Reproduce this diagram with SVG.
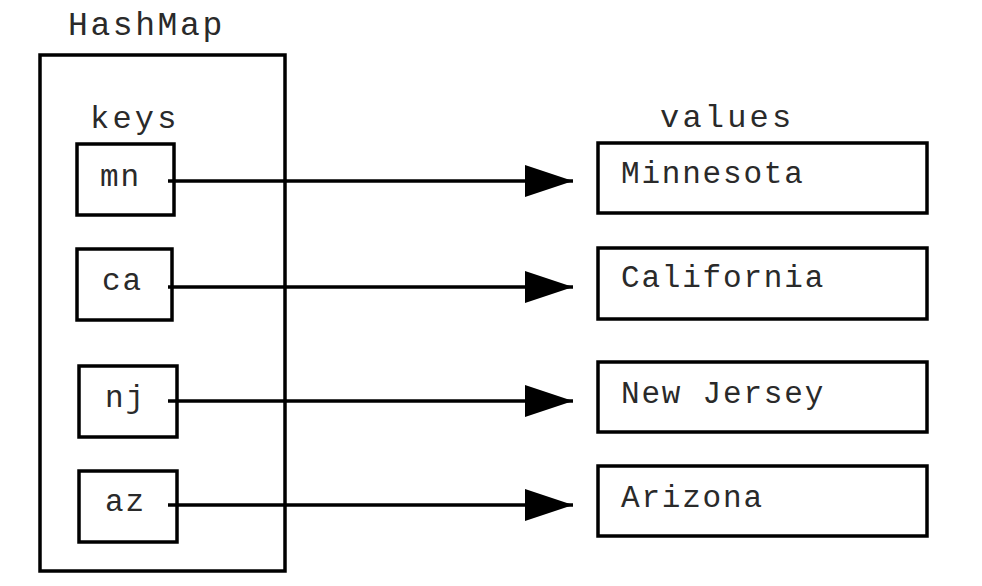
<svg xmlns="http://www.w3.org/2000/svg" width="982" height="586" viewBox="0 0 982 586">
<style>
.box{fill:#fff;stroke:#000;stroke-width:3.5}
.t{font-family:"Liberation Mono","Courier New",monospace;font-size:31px;fill:#2a2a2a;letter-spacing:1.8px}
.conn{stroke:#000;stroke-width:3.5;fill:none}
</style>
<defs>
<marker id="ah" markerUnits="userSpaceOnUse" markerWidth="50" markerHeight="34" refX="48" refY="17" orient="auto">
<polygon points="0,1 48,17 0,33" fill="#000"/>
</marker>
</defs>
<rect width="982" height="586" fill="#fff"/>
<g id="hashmap">
<rect class="box" x="40" y="55" width="245" height="516"/>
<text class="t" x="68" y="35" style="font-size:33px;letter-spacing:2.6px">HashMap</text>
<text class="t" x="90" y="128" style="font-size:32px;letter-spacing:3.2px">keys</text>
</g>
<text class="t" x="660" y="127" style="font-size:32px;letter-spacing:3.2px">values</text>
<g id="key-mn"><rect class="box" x="77" y="144" width="97" height="71"/><text class="t" x="100" y="186">mn</text></g>
<g id="key-ca"><rect class="box" x="77" y="249" width="95" height="71"/><text class="t" x="102" y="290">ca</text></g>
<g id="key-nj"><rect class="box" x="79" y="366" width="98" height="71"/><text class="t" x="105" y="407">nj</text></g>
<g id="key-az"><rect class="box" x="79" y="471" width="98" height="71"/><text class="t" x="105" y="511">az</text></g>
<g id="val-mn"><rect class="box" x="598" y="143" width="329" height="70"/><text class="t" x="621" y="183">Minnesota</text></g>
<g id="val-ca"><rect class="box" x="598" y="248" width="329" height="71"/><text class="t" x="621" y="287">California</text></g>
<g id="val-nj"><rect class="box" x="598" y="362" width="329" height="70"/><text class="t" x="621" y="403">New Jersey</text></g>
<g id="val-az"><rect class="box" x="598" y="466" width="329" height="70"/><text class="t" x="621" y="507">Arizona</text></g>
<g id="connectors">
<line class="conn" x1="168" y1="181" x2="573" y2="181" marker-end="url(#ah)"/>
<line class="conn" x1="168" y1="287" x2="573" y2="287" marker-end="url(#ah)"/>
<line class="conn" x1="168" y1="401" x2="573" y2="401" marker-end="url(#ah)"/>
<line class="conn" x1="168" y1="505" x2="573" y2="505" marker-end="url(#ah)"/>
</g>
</svg>
